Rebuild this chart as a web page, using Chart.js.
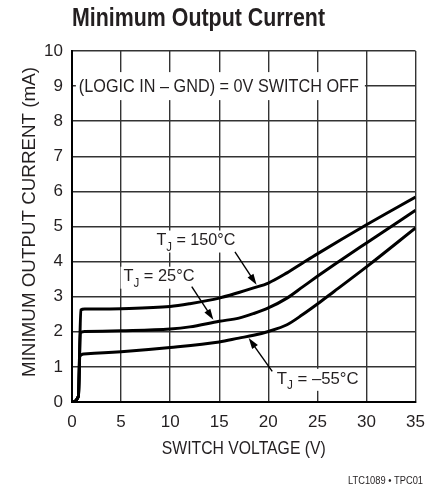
<!DOCTYPE html>
<html>
<head>
<meta charset="utf-8">
<script src="https://cdn.jsdelivr.net/npm/chart.js@4.4.1/dist/chart.umd.min.js"></script>
<style>
  html, body { margin: 0; padding: 0; background: #fff; }
  #wrap { width: 435px; height: 489px; position: relative; }
</style>
</head>
<body>
<div id="wrap"><canvas id="myChart" width="435" height="489"></canvas></div>
<script>
// tick labels
const xTicks = [0, 5, 10, 15, 20, 25, 30, 35];
const yTicks = [0, 1, 2, 3, 4, 5, 6, 7, 8, 9, 10];

// switch voltage (V) / minimum output current (mA)
const voltsHot = [0, 0.65, 0.9, 1.3, 5, 10, 12, 15, 17, 18.5, 20, 21.9, 23.5, 25, 30, 35];
const currentHot = [0, 0.16, 2.62, 2.65, 2.66, 2.72, 2.8, 2.96, 3.12, 3.25, 3.39, 3.68, 3.96, 4.22, 5.05, 5.84];

const voltsRoom = [0, 0.65, 0.85, 1.3, 5, 10, 12, 15, 17, 18.5, 20, 21.9, 23.5, 25, 26.7, 30, 35];
const currentRoom = [0, 0.16, 1.97, 2.01, 2.03, 2.08, 2.14, 2.3, 2.39, 2.52, 2.68, 2.96, 3.28, 3.58, 3.91, 4.53, 5.46];

const voltsCold = [0, 0.65, 0.8, 1.2, 5, 10, 15, 17, 18.5, 20, 21.9, 23.5, 25, 26.7, 30, 35];
const currentCold = [0, 0.16, 1.3, 1.37, 1.43, 1.55, 1.71, 1.82, 1.9, 2.01, 2.2, 2.49, 2.79, 3.15, 3.85, 4.96];

const SANS = '"Liberation Sans", Arial, Helvetica, sans-serif';
const INK = '#231f20';

function pts(xs, ys) {
  return xs.map((x, i) => ({x: x, y: ys[i]}));
}

function curve(label, xs, ys) {
  return {
    label: label,
    data: pts(xs, ys),
    borderColor: '#000',
    borderWidth: 3,
    pointRadius: 0,
    fill: false,
    cubicInterpolationMode: 'monotone'
  };
}

// condensed look: squeeze text to the width it has in the original
function fitText(ctx, text, x, y, width, align) {
  const w = ctx.measureText(text).width;
  const s = width / w;
  ctx.save();
  ctx.translate(x, y);
  ctx.scale(s, 1);
  ctx.textAlign = align || 'left';
  ctx.fillText(text, 0, 0);
  ctx.restore();
}

// labels + arrows (in data units)
const notes = [
  {parts: ['T', 'J', ' = 150°C'], x: 8.6, y: 4.6, w: 79, from: [16.6, 4.28], to: [18.8, 3.34]},
  {parts: ['T', 'J', ' = 25°C'], x: 5.25, y: 3.57, w: 71, from: [12.2, 3.29], to: [14.4, 2.34]},
  {parts: ['T', 'J', ' = –55°C'], x: 20.85, y: 0.66, w: 82, from: [20.4, 0.87], to: [18.0, 1.82]}
];
const logicNote = {text: '(LOGIC IN – GND) = 0V SWITCH OFF', x: 0.7, y: 9, w: 280};

function drawLabel(ctx, n, xs, ys) {
  const big = '17px ' + SANS, small = '12px ' + SANS;
  ctx.font = big;
  const w0 = ctx.measureText(n.parts[0]).width;
  const w2 = ctx.measureText(n.parts[2]).width;
  ctx.font = small;
  const w1 = ctx.measureText(n.parts[1]).width;
  const s = n.w / (w0 + w1 + w2);
  const px = xs.getPixelForValue(n.x), py = ys.getPixelForValue(n.y);
  ctx.fillStyle = '#fff';
  ctx.fillRect(px - 3, py - 10, n.w + 6, 22);
  ctx.save();
  ctx.translate(px, py);
  ctx.scale(s, 1);
  ctx.fillStyle = INK;
  ctx.textBaseline = 'middle';
  ctx.textAlign = 'left';
  ctx.font = big;
  ctx.fillText(n.parts[0], 0, 0);
  ctx.font = small;
  ctx.fillText(n.parts[1], w0, 7);
  ctx.font = big;
  ctx.fillText(n.parts[2], w0 + w1, 0);
  ctx.restore();
}

function arrow(ctx, x1, y1, x2, y2) {
  const a = Math.atan2(y2 - y1, x2 - x1);
  const len = 11, half = 3.5;
  ctx.strokeStyle = '#000';
  ctx.lineWidth = 1.4;
  ctx.beginPath();
  ctx.moveTo(x1, y1);
  ctx.lineTo(x2 - Math.cos(a) * len * 0.8, y2 - Math.sin(a) * len * 0.8);
  ctx.stroke();
  ctx.fillStyle = '#000';
  ctx.beginPath();
  ctx.moveTo(x2, y2);
  ctx.lineTo(x2 - Math.cos(a) * len - Math.sin(a) * half, y2 - Math.sin(a) * len + Math.cos(a) * half);
  ctx.lineTo(x2 - Math.cos(a) * len + Math.sin(a) * half, y2 - Math.sin(a) * len - Math.cos(a) * half);
  ctx.closePath();
  ctx.fill();
}

const notePlugin = {
  id: 'notes',
  beforeDatasetsDraw(chart) {
    const ctx = chart.ctx, xs = chart.scales.x, ys = chart.scales.y;
    ctx.save();
    // logic condition label sits on the 9 mA line
    const px = xs.getPixelForValue(logicNote.x), py = ys.getPixelForValue(logicNote.y);
    ctx.fillStyle = '#fff';
    ctx.fillRect(px - 3, py - 14, logicNote.w + 9, 28);
    ctx.fillStyle = INK;
    ctx.textBaseline = 'middle';
    ctx.font = '18px ' + SANS;
    fitText(ctx, logicNote.text, px, py + 1, logicNote.w);
    notes.forEach(n => drawLabel(ctx, n, xs, ys));
    ctx.restore();
  },
  afterDatasetsDraw(chart) {
    const ctx = chart.ctx, xs = chart.scales.x, ys = chart.scales.y;
    ctx.save();
    notes.forEach(n => arrow(ctx,
      xs.getPixelForValue(n.from[0]), ys.getPixelForValue(n.from[1]),
      xs.getPixelForValue(n.to[0]), ys.getPixelForValue(n.to[1])));
    ctx.restore();
  },
  afterDraw(chart) {
    const ctx = chart.ctx, area = chart.chartArea;
    ctx.save();
    ctx.fillStyle = INK;
    ctx.textBaseline = 'alphabetic';
    ctx.font = 'bold 26px ' + SANS;
    fitText(ctx, 'Minimum Output Current', area.left, 26, 253);
    // axis titles
    ctx.font = '19px ' + SANS;
    fitText(ctx, 'SWITCH VOLTAGE (V)', (area.left + area.right) / 2, 454, 164, 'center');
    ctx.save();
    ctx.translate(35, 222);
    ctx.rotate(-Math.PI / 2);
    ctx.font = '18.5px ' + SANS;
    fitText(ctx, 'MINIMUM OUTPUT CURRENT (mA)', 0, 0, 310, 'center');
    ctx.restore();
    ctx.font = '11.5px ' + SANS;
    fitText(ctx, 'LTC1089 • TPC01', 423, 484, 75, 'right');
    ctx.restore();
  }
};

const data = {
  datasets: [
    curve('TJ = 150°C', voltsHot, currentHot),
    curve('TJ = 25°C', voltsRoom, currentRoom),
    curve('TJ = –55°C', voltsCold, currentCold)
  ]
};

const config = {
  type: 'line',
  data: data,
  options: {
    responsive: false,
    animation: false,
    layout: {padding: {left: 0, right: 11, top: 51, bottom: 0}},
    plugins: {legend: {display: false}, tooltip: {enabled: false}, title: {display: false}},
    scales: {
      x: {
        type: 'linear',
        min: 0, max: 35,
        afterFit(s) { s.height = 87; },
        afterBuildTicks(s) { s.ticks = xTicks.map(v => ({value: v})); },
        grid: {color: '#333', lineWidth: 1.4, drawTicks: false},
        border: {color: '#000', width: 2},
        ticks: {color: INK, font: {family: SANS, size: 17}, padding: 10, maxRotation: 0}
      },
      y: {
        min: 0, max: 10,
        afterFit(s) { s.width = 72; },
        afterBuildTicks(s) { s.ticks = yTicks.map(v => ({value: v})); },
        grid: {color: '#333', lineWidth: 1.4, drawTicks: false},
        border: {color: '#000', width: 2},
        ticks: {color: INK, font: {family: SANS, size: 17}, padding: 9}
      }
    }
  },
  plugins: [notePlugin]
};

const myChart = new Chart(document.getElementById('myChart'), config);
</script>
</body>
</html>
